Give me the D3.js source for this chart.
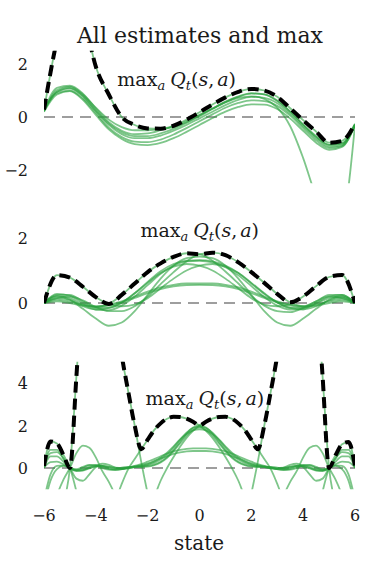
<!DOCTYPE html>
<html>
<head>
<meta charset="utf-8">
<script src="https://cdn.jsdelivr.net/npm/d3@7"></script>
<style>
  html, body { margin: 0; padding: 0; background: #fff; }
  svg { display: block; }
</style>
</head>
<body>
<div id="chart"></div>
<script>
// Estimates of Q_t(s, a) for every action (green) and their max (black dashed),
// three rows: different true values / fit degrees.

const statesCoarse = [-6, -5.5, -5, -4.5, -4, -3.5, -3, -2.5, -2, -1.5, -1, -0.5, 0, 0.5, 1, 1.5, 2, 2.5, 3, 3.5, 4, 4.5, 5, 5.5, 6];
const statesFine = [-6, -5.75, -5.5, -5.25, -5, -4.75, -4.5, -4.25, -4, -3.75, -3.5, -3.25, -3, -2.75, -2.5, -2.25, -2, -1.75, -1.5, -1.25, -1, -0.75, -0.5, -0.25, 0,
  0.25, 0.5, 0.75, 1, 1.25, 1.5, 1.75, 2, 2.25, 2.5, 2.75, 3, 3.25, 3.5, 3.75, 4, 4.25, 4.5, 4.75, 5, 5.25, 5.5, 5.75, 6];

// --- top row
const top1 = [0.25, 1.02, 1.15, 0.85, 0.35, -0.1, -0.38, -0.5, -0.5, -0.45, -0.33, -0.1, 0.18, 0.47, 0.74, 0.95, 1.06, 1.0, 0.76, 0.33, -0.12, -0.55, -0.97, -0.9, -0.25];
const top2 = [0.22, 1.1, 1.18, 0.88, 0.32, -0.2, -0.52, -0.65, -0.62, -0.5, -0.35, -0.15, 0.08, 0.32, 0.56, 0.76, 0.88, 0.85, 0.62, 0.2, -0.28, -0.72, -1.05, -1.0, -0.28];
const top3 = [0.25, 0.95, 1.08, 0.78, 0.22, -0.3, -0.65, -0.8, -0.8, -0.7, -0.52, -0.3, -0.05, 0.2, 0.45, 0.65, 0.76, 0.72, 0.52, 0.12, -0.35, -0.8, -1.12, -1.06, -0.28];
const top4 = [0.28, 0.9, 1.0, 0.7, 0.15, -0.4, -0.76, -0.93, -0.95, -0.85, -0.66, -0.42, -0.16, 0.1, 0.35, 0.53, 0.63, 0.6, 0.42, 0.05, -0.42, -0.88, -1.17, -1.1, -0.3];
const top5 = [0.2, 0.85, 0.98, 0.65, 0.08, -0.47, -0.83, -1.02, -1.06, -0.98, -0.8, -0.56, -0.3, -0.04, 0.2, 0.38, 0.48, 0.47, 0.3, -0.06, -0.52, -0.97, -1.24, -1.13, -0.3];
const top6 = [0.25, 2.9, 4.6, 3.9, 1.9, 0.85, 0.0, -0.3, -0.43, -0.44, -0.38, -0.2, 0.06, 0.32, 0.58, 0.78, 0.9, 0.85, 0.6, 0.2, -0.3, -0.75, -1.05, -1.0, -0.3];
const top7 = [0.22, 0.95, 1.1, 0.8, 0.25, -0.25, -0.58, -0.72, -0.72, -0.62, -0.45, -0.22, 0.03, 0.3, 0.55, 0.72, 0.78, 0.68, 0.35, -0.35, -1.55, -3.0, -4.0, -3.8, -0.3];

// --- middle row
const mid1 = [0, 0.25, 0.25, 0.05, -0.12, -0.03, 0.25, 0.6, 0.95, 1.22, 1.42, 1.53, 1.5, 1.3, 0.97, 0.6, 0.22, -0.08, -0.25, -0.28, -0.15, 0.05, 0.2, 0.15, 0];
const mid2 = [0, 0.15, 0.2, 0.08, -0.12, -0.25, -0.25, -0.1, 0.2, 0.58, 0.95, 1.28, 1.5, 1.55, 1.47, 1.25, 0.95, 0.62, 0.28, 0.02, -0.1, 0.05, 0.25, 0.25, 0];
const mid3 = [0, 0.86, 0.78, 0.5, 0.18, -0.03, -0.1, -0.05, 0.15, 0.45, 0.75, 1.0, 1.15, 1.2, 1.12, 0.92, 0.62, 0.3, 0.02, -0.15, -0.2, -0.1, 0.08, 0.15, 0];
const mid4 = [0, 0.15, 0.1, -0.1, -0.2, -0.15, 0.02, 0.3, 0.62, 0.92, 1.12, 1.2, 1.15, 1.0, 0.75, 0.45, 0.15, -0.05, -0.1, -0.03, 0.2, 0.52, 0.8, 0.86, 0];
const mid5 = [0, 0.2, 0.1, -0.18, -0.48, -0.7, -0.6, -0.25, 0.25, 0.75, 1.15, 1.38, 1.43, 1.38, 1.15, 0.75, 0.25, -0.25, -0.6, -0.7, -0.48, -0.18, 0.1, 0.2, 0];
const mid6 = [0, 0.1, 0.05, -0.05, -0.1, -0.05, 0.05, 0.2, 0.35, 0.48, 0.56, 0.6, 0.6, 0.6, 0.56, 0.48, 0.35, 0.2, 0.05, -0.05, -0.1, -0.05, 0.05, 0.1, 0];
const mid7 = [0, 0.05, 0.0, -0.08, -0.12, -0.08, 0.02, 0.16, 0.3, 0.43, 0.51, 0.55, 0.56, 0.55, 0.51, 0.43, 0.3, 0.16, 0.02, -0.08, -0.12, -0.08, 0.0, 0.05, 0];
const mid8 = [0, 0.28, 0.22, 0.0, -0.15, -0.15, 0.0, 0.3, 0.65, 0.98, 1.2, 1.3, 1.32, 1.28, 1.15, 0.92, 0.6, 0.28, 0.02, -0.15, -0.15, 0.0, 0.2, 0.25, 0];
const mid9 = [0, 0.22, 0.15, -0.05, -0.2, -0.22, -0.08, 0.2, 0.55, 0.9, 1.15, 1.28, 1.3, 1.25, 1.1, 0.85, 0.52, 0.18, -0.08, -0.2, -0.18, -0.02, 0.15, 0.2, 0];

// --- bottom row (finer state grid)
const low1 = [-8, -6, -4, -1.8, 0, 4.3, 9, 12, 13, 12.5, 10, 7.5, 5.3, 3.6, 2.0, 0.3, -1.2, -2.5, -3.5, -4.2, -4.6, -4.9, -5, -5, -5,
  -5, -5, -4.9, -4.6, -4.2, -3.5, -2.5, -1.2, 0.3, 2.0, 3.6, 5.3, 7.5, 10, 12.5, 13, 12, 9, 4.3, 0, -1.8, -4, -6, -8];
const low2 = [-5, -5, -5, -5, -5, -5, -5, -5, -4.8, -3.8, -2.8, -1.6, -0.75, -0.05, 0.42, 0.88, 1.33, 1.78, 2.1, 2.32, 2.41, 2.4, 2.32, 2.18, 2.0,
  1.75, 1.42, 1.0, 0.52, 0.0, -0.6, -1.4, -2.3, -3.2, -4, -4.5, -5, -5, -5, -5, -5, -5, -5, -5, -5, -5, -5, -5, -5];
const low3 = [-5, -5, -5, -5, -5, -5, -5, -5, -5, -5, -5, -5, -5, -4.5, -4, -3.2, -2.3, -1.4, -0.6, 0.0, 0.52, 1.0, 1.42, 1.75, 2.0,
  2.18, 2.32, 2.4, 2.41, 2.32, 2.1, 1.78, 1.33, 0.88, 0.42, -0.05, -0.75, -1.6, -2.8, -3.8, -4.8, -5, -5, -5, -5, -5, -5, -5, -5];
const low4 = [0.05, 0.85, 0.85, 0.45, 0, -0.15, -0.1, 0.05, 0.12, 0.1, 0.0, -0.08, -0.05, 0.03, 0.08, 0.08, 0.1, 0.16, 0.29, 0.52, 0.85, 1.23, 1.62, 1.9, 2.0,
  1.9, 1.62, 1.23, 0.85, 0.52, 0.29, 0.16, 0.1, 0.08, 0.08, 0.03, -0.05, -0.08, 0.0, 0.1, 0.12, 0.05, -0.1, -0.15, 0, 0.45, 0.85, 0.85, 0.05];
const low5 = [0.0, 0.55, 0.55, 0.3, 0, -0.1, 0.0, 0.12, 0.1, 0.0, -0.08, -0.05, 0.02, 0.05, 0.06, 0.08, 0.14, 0.24, 0.4, 0.64, 0.97, 1.33, 1.66, 1.88, 1.95,
  1.88, 1.66, 1.33, 0.97, 0.64, 0.4, 0.24, 0.14, 0.08, 0.06, 0.05, 0.02, -0.05, -0.08, 0.0, 0.1, 0.12, 0.0, -0.1, 0, 0.3, 0.55, 0.55, 0.0];
const low6 = [-1.8, -0.6, -0.05, 0.1, 0, -0.05, 0.05, 0.15, 0.15, 0.05, -0.05, -0.1, -0.05, 0.02, 0.05, 0.04, 0.06, 0.13, 0.26, 0.48, 0.8, 1.16, 1.52, 1.79, 1.9,
  1.79, 1.52, 1.16, 0.8, 0.48, 0.26, 0.13, 0.06, 0.04, 0.05, 0.02, -0.05, -0.1, -0.05, 0.05, 0.15, 0.15, 0.05, -0.05, 0, 0.1, -0.05, -0.6, -1.8];
const low7 = [0.02, 0.28, 0.3, 0.18, 0, -0.12, -0.12, -0.02, 0.08, 0.1, 0.05, -0.02, -0.04, 0.0, 0.05, 0.1, 0.18, 0.3, 0.48, 0.72, 1.02, 1.34, 1.6, 1.77, 1.82,
  1.77, 1.6, 1.34, 1.02, 0.72, 0.48, 0.3, 0.18, 0.1, 0.05, 0.0, -0.04, -0.02, 0.05, 0.1, 0.08, -0.02, -0.12, -0.12, 0, 0.18, 0.3, 0.28, 0.02];
const low8 = [-1.5, -0.3, 0.1, 0.12, 0, -0.1, -0.08, 0.0, 0.08, 0.1, 0.06, 0.02, 0.0, 0.02, 0.1, 0.18, 0.3, 0.42, 0.55, 0.68, 0.78, 0.85, 0.9, 0.92, 0.92,
  0.92, 0.9, 0.85, 0.78, 0.68, 0.55, 0.42, 0.3, 0.18, 0.1, 0.02, 0.0, 0.02, 0.06, 0.1, 0.08, 0.0, -0.08, -0.1, 0, 0.12, 0.1, -0.3, -1.5];
const low9 = [0.1, 0.7, 0.75, 0.45, 0, -0.5, -0.6, -0.3, 0.05, 0.2, 0.15, 0.02, -0.05, -0.02, 0.05, 0.13, 0.22, 0.33, 0.45, 0.56, 0.66, 0.73, 0.78, 0.8, 0.8,
  0.8, 0.78, 0.73, 0.66, 0.56, 0.45, 0.33, 0.22, 0.13, 0.05, -0.02, -0.05, 0.02, 0.15, 0.2, 0.05, -0.3, -0.6, -0.5, 0, 0.45, 0.75, 0.7, 0.1];
const low10 = [-4, -2.5, -1.3, -0.55, 0, 0.7, 1.05, 0.95, 0.5, -0.15, -0.65, -1.3, -2.2, -3, -4, -4, -4, -4, -4, -4, -4, -4, -4, -4, -4,
  -4, -4, -4, -4, -4, -4, -4, -4, -4, -4, -3, -2.2, -1.3, -0.65, -0.15, 0.5, 0.95, 1.05, 0.7, 0, -0.55, -1.3, -2.5, -4];
const low11 = [0.06, 1.25, 1.15, 0.62, 0, -1.1, -2.5, -4, -4, -4, -4, -4, -4, -4, -4, -4, -4, -4, -4, -4, -4, -4, -4, -4, -4,
  -4, -4, -4, -4, -4, -4, -4, -4, -4, -4, -4, -4, -4, -4, -4, -4, -4, -2.5, -1.1, 0, 0.6, 1.12, 1.22, 0.06];

const yTicksTop = [-2, 0, 2];
const yTicksMid = [0, 2];
const yTicksLow = [0, 2, 4];
const xTicks = [-6, -4, -2, 0, 2, 4, 6];

const noteStates = [-3.17, -2.28, -2.08];
const noteValues = [1.18, 2.04, 2.96];

const FONT = '"DejaVu Serif", serif';
const GREEN = 'rgb(40,160,60)';
const INK = '#1a1a1a';
const width = 375, height = 569;
const plotLeft = 44, plotRight = 355;

const panels = [
  { states: statesCoarse, curves: [top1, top2, top3, top4, top5, top6, top7], domain: [-2.5, 2.5], range: [183.25, 50.75], ticks: yTicksTop },
  { states: statesCoarse, curves: [mid1, mid2, mid3, mid4, mid5, mid6, mid7, mid8, mid9], domain: [-1, 3], range: [335.5, 205.5], ticks: yTicksMid },
  { states: statesFine, curves: [low1, low2, low3, low4, low5, low6, low7, low8, low9, low10, low11], domain: [-1, 5], range: [489.25, 361.75], ticks: yTicksLow },
];

const svg = d3.select('#chart').append('svg').attr('width', width).attr('height', height);
const x = d3.scaleLinear().domain([-6, 6]).range([plotLeft, plotRight]);

svg.append('text')
  .attr('x', 200).attr('y', 43)
  .attr('text-anchor', 'middle')
  .attr('font-family', FONT).attr('font-size', 22)
  .attr('fill', INK)
  .text('All estimates and max');

function addNote(g, px, py) {
  const t = g.append('text').attr('x', px).attr('y', py)
    .attr('font-family', FONT).attr('font-size', 19).attr('fill', INK);
  t.append('tspan').text('max');
  t.append('tspan').attr('font-style', 'italic').attr('font-size', 13).attr('dy', 4).text('a');
  t.append('tspan').attr('font-style', 'italic').attr('dy', -4).attr('dx', 5).text('Q');
  t.append('tspan').attr('font-style', 'italic').attr('font-size', 13).attr('dy', 4).text('t');
  t.append('tspan').attr('dy', -4).text('(');
  t.append('tspan').attr('font-style', 'italic').text('s');
  t.append('tspan').text(',');
  t.append('tspan').attr('font-style', 'italic').attr('dx', 3).text('a');
  t.append('tspan').text(')');
}

panels.forEach((p, k) => {
  const y = d3.scaleLinear().domain(p.domain).range(p.range);
  const g = svg.append('g');
  const clipId = 'clip' + k;
  svg.append('clipPath').attr('id', clipId)
    .append('rect')
    .attr('x', plotLeft).attr('y', p.range[1])
    .attr('width', plotRight - plotLeft).attr('height', p.range[0] - p.range[1]);

  const plot = g.append('g').attr('clip-path', `url(#${clipId})`);

  // zero reference
  plot.append('line')
    .attr('x1', plotLeft).attr('x2', plotRight)
    .attr('y1', y(0)).attr('y2', y(0))
    .attr('stroke', '#9e9e9e').attr('stroke-width', 2)
    .attr('stroke-dasharray', '11,7');

  const line = d3.line().x((d) => x(d[0])).y((d) => y(d[1])).curve(d3.curveMonotoneX);

  p.curves.forEach((c) => {
    plot.append('path')
      .datum(p.states.map((s, i) => [s, c[i]]))
      .attr('fill', 'none')
      .attr('stroke', GREEN).attr('stroke-opacity', 0.6)
      .attr('stroke-width', 1.8)
      .attr('d', line);
  });

  const maxPts = p.states.map((s, i) => [s, d3.max(p.curves, (c) => c[i])]);
  plot.append('path')
    .datum(maxPts)
    .attr('fill', 'none')
    .attr('stroke', '#000').attr('stroke-width', 4)
    .attr('stroke-dasharray', '11,6')
    .attr('d', line);

  // y tick labels (no spines, no tick marks)
  g.selectAll('text.ytick').data(p.ticks).enter().append('text')
    .attr('class', 'ytick')
    .attr('x', 28).attr('y', (d) => y(d) + 6)
    .attr('text-anchor', 'end')
    .attr('font-family', FONT).attr('font-size', 16)
    .attr('fill', INK)
    .text((d) => (d < 0 ? '\u2212' + Math.abs(d) : String(d)));

  addNote(g, x(noteStates[k]), y(noteValues[k]));
});

svg.selectAll('text.xtick').data(xTicks).enter().append('text')
  .attr('class', 'xtick')
  .attr('x', (d) => x(d)).attr('y', 521)
  .attr('text-anchor', 'middle')
  .attr('font-family', FONT).attr('font-size', 16)
  .attr('fill', INK)
  .text((d) => (d < 0 ? '\u2212' + Math.abs(d) : String(d)));

svg.append('text')
  .attr('x', 199).attr('y', 550)
  .attr('text-anchor', 'middle')
  .attr('font-family', FONT).attr('font-size', 20)
  .attr('fill', INK)
  .text('state');
</script>
</body>
</html>
